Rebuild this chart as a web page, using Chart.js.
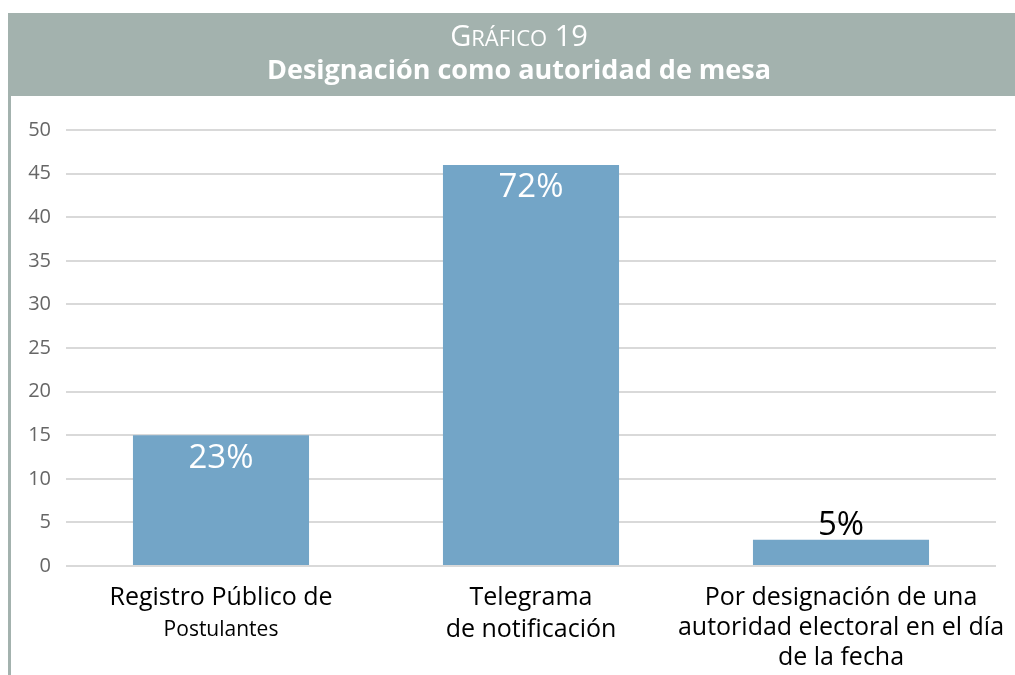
<!DOCTYPE html>
<html>
<head>
<meta charset="utf-8">
<script src="https://cdn.jsdelivr.net/npm/chart.js@4"></script>
<style>
  html, body { margin: 0; padding: 0; background: #ffffff; }
  #wrap { position: relative; width: 1015px; height: 675px; }
</style>
</head>
<body>
<div id="wrap"><canvas id="c" width="1015" height="675"></canvas></div>
<script>
// ---- data ----
const categories = [
  ["Registro Público de", "Postulantes"],
  ["Telegrama", "de notificación"],
  ["Por designación de una", "autoridad electoral en el día", "de la fecha"]
];
const values = [15, 46, 3];
const percentLabels = ["23%", "72%", "5%"];
const yTicks = [0, 5, 10, 15, 20, 25, 30, 35, 40, 45, 50];
const titleTop = "GRÁFICO 19";
const titleMain = "Designación como autoridad de mesa";

// ---- style ----
const FONT = "'Open Sans', 'Noto Sans', sans-serif";
const BAND = "#a3b2ae";
const BAR = "#73a5c7";

const headerPlugin = {
  id: 'header',
  beforeDraw(chart) {
    const ctx = chart.ctx;
    ctx.save();
    ctx.fillStyle = '#ffffff';
    ctx.fillRect(0, 0, chart.width, chart.height);
    ctx.fillStyle = BAND;
    ctx.fillRect(8, 13, chart.width - 8, 83);
    ctx.fillRect(8, 96, 3, chart.height - 96);
    // small caps title line
    ctx.fillStyle = '#ffffff';
    ctx.textBaseline = 'alphabetic';
    const big = "29px " + FONT, small = "22px " + FONT;
    const parts = [];
    for (const ch of titleTop) {
      parts.push({ t: ch, f: (parts.length === 0 || /[0-9 ]/.test(ch)) ? big : small });
    }
    let total = 0;
    parts.forEach(p => { ctx.font = p.f; p.w = ctx.measureText(p.t).width; total += p.w; });
    let x = 519 - total / 2;
    ctx.textAlign = 'left';
    parts.forEach(p => { ctx.font = p.f; ctx.fillText(p.t, x, 46); x += p.w; });
    ctx.font = "bold 27px " + FONT;
    ctx.textAlign = 'center';
    ctx.fillText(titleMain, 519, 79);
    ctx.restore();
  }
};

const lineSizes = [[25, 21], [25, 25], [25, 25, 25]];
const labelsPlugin = {
  id: 'labels',
  afterDatasetsDraw(chart) {
    const ctx = chart.ctx;
    const meta = chart.getDatasetMeta(0);
    const xs = chart.scales.x;
    ctx.save();
    ctx.textAlign = 'center';
    meta.data.forEach((bar, i) => {
      const cx = xs.getPixelForValue(i);
      // percent labels
      ctx.font = "33px " + FONT;
      if (i === 2) {
        ctx.fillStyle = '#000000';
        ctx.textBaseline = 'alphabetic';
        ctx.fillText(percentLabels[i], cx, bar.y - 5);
      } else {
        ctx.fillStyle = '#ffffff';
        ctx.textBaseline = 'middle';
        ctx.fillText(percentLabels[i], cx, bar.y + 23);
      }
      // category labels
      ctx.fillStyle = '#000000';
      ctx.textBaseline = 'middle';
      const lines = categories[i];
      const lh = i === 2 ? 30 : 32;
      lines.forEach((ln, j) => {
        ctx.font = lineSizes[i][j] + "px " + FONT;
        ctx.fillText(ln, cx, 598 + j * lh);
      });
    });
    ctx.restore();
  }
};

new Chart(document.getElementById('c'), {
  type: 'bar',
  data: {
    labels: categories.map(c => c.join(' ')),
    datasets: [{
      data: values,
      backgroundColor: BAR,
      borderWidth: 0,
      categoryPercentage: 1,
      barPercentage: 0.568
    }]
  },
  options: {
    responsive: false,
    animation: false,
    layout: { padding: { left: 0, right: 19, top: 130, bottom: 109 } },
    plugins: { legend: { display: false }, tooltip: { enabled: false }, title: { display: false } },
    scales: {
      x: {
        grid: { display: false },
        border: { display: false },
        ticks: { display: false },
        afterFit(s) { s.height = 0; }
      },
      y: {
        min: 0, max: 50,
        afterBuildTicks(s) { s.ticks = yTicks.map(v => ({ value: v })); },
        afterFit(s) { s.width = 66; },
        grid: { color: '#d9d9d9', lineWidth: 2, drawTicks: false },
        border: { display: false },
        ticks: { color: '#666666', font: { family: FONT, size: 20 }, padding: 15 }
      }
    }
  },
  plugins: [headerPlugin, labelsPlugin]
});
</script>
</body>
</html>
